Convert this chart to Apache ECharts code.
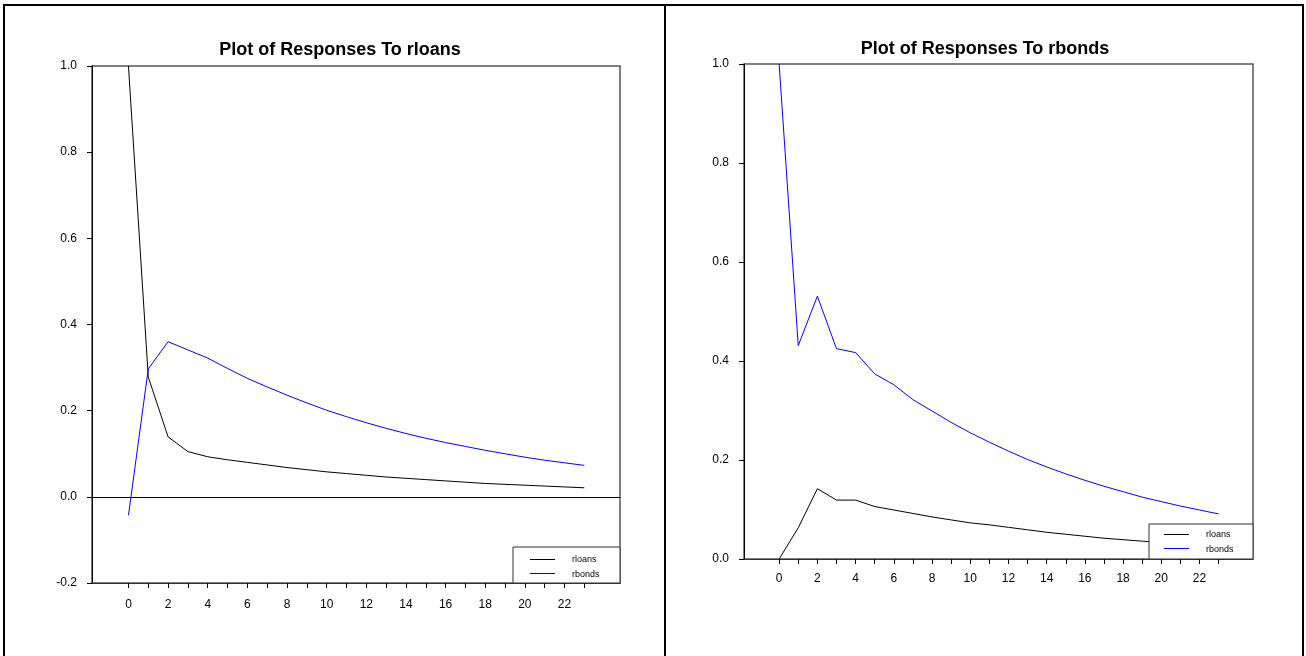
<!DOCTYPE html>
<html>
<head>
<meta charset="utf-8">
<script src="https://cdn.jsdelivr.net/npm/echarts@6/dist/echarts.min.js"></script>
<style>
html,body{margin:0;padding:0;background:#fff;}
#wrap{position:relative;width:1306px;height:656px;overflow:hidden;}
#left{position:absolute;left:0;top:0;width:666px;height:656px;}
#right{position:absolute;left:666px;top:0;width:640px;height:656px;}
</style>
</head>
<body>
<div id="wrap"><div id="left"></div><div id="right"></div></div>
<script>
// Horizon steps
const steps = [0,1,2,3,4,5,6,7,8,9,10,11,12,13,14,15,16,17,18,19,20,21,22,23];
const xTickValues = [0,1,2,3,4,5,6,7,8,9,10,11,12,13,14,15,16,17,18,19,20,21,22,23];
const xLabelValues = [0,2,4,6,8,10,12,14,16,18,20,22];

// Responses to rloans shock
const rloansToRloans = [1.0,0.278,0.139,0.105,0.093,0.086,0.080,0.074,0.068,0.063,0.058,0.054,0.050,0.046,0.043,0.040,0.037,0.034,0.031,0.029,0.027,0.025,0.023,0.021];
const rbondsToRloans = [-0.043,0.297,0.360,0.341,0.322,0.298,0.275,0.255,0.236,0.218,0.201,0.186,0.172,0.159,0.147,0.136,0.126,0.117,0.108,0.100,0.092,0.085,0.079,0.073];

// Responses to rbonds shock
const rloansToRbonds = [0.0,0.063,0.142,0.119,0.119,0.106,0.099,0.092,0.085,0.079,0.073,0.069,0.064,0.059,0.054,0.050,0.046,0.042,0.039,0.036,0.033,0.030,0.028,0.026];
const rbondsToRbonds = [1.0,0.431,0.531,0.425,0.417,0.374,0.352,0.322,0.299,0.276,0.255,0.236,0.218,0.201,0.186,0.172,0.159,0.147,0.136,0.125,0.116,0.107,0.099,0.091];

const titles = ['Plot of Responses To rloans', 'Plot of Responses To rbonds'];
const seriesNames = ['rloans', 'rbonds'];
const seriesColors = ['#000000', '#0000ff'];

function pairs(vals){ return steps.map((s,i)=>[s, vals[i]]); }

const FONT = '"Liberation Sans", Arial, Helvetica, sans-serif';

function buildOption(cfg){
  const lx = cfg.legend[0], ly = cfg.legend[1];
  // legend key samples (drawn in the series colours, one per legend row)
  const keyLines = seriesColors.map((c,i)=>({
    type:'line', z:25,
    shape:{x1:lx, y1:ly + 4.5 + i*14, x2:lx + 25, y2:ly + 4.5 + i*14},
    style:{stroke:c, lineWidth:1}
  }));
  return {
    animation:false,
    backgroundColor:'#fff',
    title:{text:cfg.title, left:cfg.titleX, top:cfg.titleY, textAlign:'center',
      textStyle:{fontSize:18, fontWeight:'bold', color:'#000', fontFamily:FONT}},
    grid:{left:cfg.grid[0], top:cfg.grid[1], width:cfg.grid[2], height:cfg.grid[3],
      show:true, borderColor:'#555', borderWidth:1.5, backgroundColor:'transparent'},
    xAxis:{
      type:'value', min:-1.84, max:24.8,
      axisLine:{show:true, onZero:false, lineStyle:{color:'#333', width:1}},
      axisTick:{show:true, length:5, inside:false, customValues:xTickValues, lineStyle:{color:'#000', width:1}},
      axisLabel:{show:true, customValues:xLabelValues, margin:cfg.xMargin, color:'#000', fontSize:12, fontFamily:FONT},
      splitLine:{show:false}
    },
    yAxis:{
      type:'value', min:cfg.yMin, max:1.0, interval:0.2,
      axisLine:{show:true, onZero:false, lineStyle:{color:'#000', width:1}},
      axisTick:{show:true, length:5, inside:false, lineStyle:{color:'#000', width:1}},
      axisLabel:{margin:15, color:'#000', fontSize:12, fontFamily:FONT, formatter:v=>v.toFixed(1)},
      splitLine:{show:false}
    },
    legend:{
      data:seriesNames.map(n=>({name:n, icon:'rect', itemStyle:{opacity:0}, lineStyle:{opacity:0}})),
      orient:'vertical', left:lx, top:ly,
      itemWidth:25, itemHeight:8, itemGap:6, padding:0, z:20,
      selectedMode:false,
      textStyle:{fontSize:9, color:'#000', fontFamily:FONT, padding:[0,0,0,12]}
    },
    series:cfg.values.map((vals,i)=>({
      name:seriesNames[i], type:'line', data:pairs(vals),
      showSymbol:false, symbol:'none', smooth:false, color:seriesColors[i],
      lineStyle:{color:seriesColors[i], width:1}, itemStyle:{color:seriesColors[i]}, z:3,
      markLine:(i===0 && cfg.zeroLine) ? {silent:true, symbol:'none', label:{show:false},
        lineStyle:{color:'#000', width:1, type:'solid'}, data:[{yAxis:0}]} : undefined
    })),
    graphic:[
      {type:'rect', z:10, shape:{x:cfg.box[0], y:cfg.box[1], width:cfg.box[2], height:cfg.box[3]},
        style:{fill:'#fff', stroke:'#333', lineWidth:1}}
    ].concat(keyLines).concat(cfg.frame)
  };
}

const leftChart = echarts.init(document.getElementById('left'), null, {renderer:'canvas'});
leftChart.setOption(buildOption({
  title:titles[0], titleX:335, titleY:36,
  grid:[92,66,528,517], xMargin:16, yMin:-0.2, zeroLine:true,
  legend:[530,555], box:[513,547,107,36],
  values:[rloansToRloans, rbondsToRloans],
  frame:[
    {type:'polyline', z:30, shape:{points:[[4,660],[4,5],[666,5]]}, style:{fill:null, stroke:'#000', lineWidth:2}},
    {type:'line', z:30, shape:{x1:665, y1:5, x2:665, y2:660}, style:{stroke:'#000', lineWidth:2}}
  ]
}));

const rightChart = echarts.init(document.getElementById('right'), null, {renderer:'canvas'});
rightChart.setOption(buildOption({
  title:titles[1], titleX:314, titleY:35,
  grid:[78,64,509,495], xMargin:14, yMin:0, zeroLine:false,
  legend:[498,530], box:[483,524,104,35],
  values:[rloansToRbonds, rbondsToRbonds],
  frame:[
    {type:'polyline', z:30, shape:{points:[[0,5],[637,5],[637,660]]}, style:{fill:null, stroke:'#000', lineWidth:2}}
  ]
}));
</script>
</body>
</html>
